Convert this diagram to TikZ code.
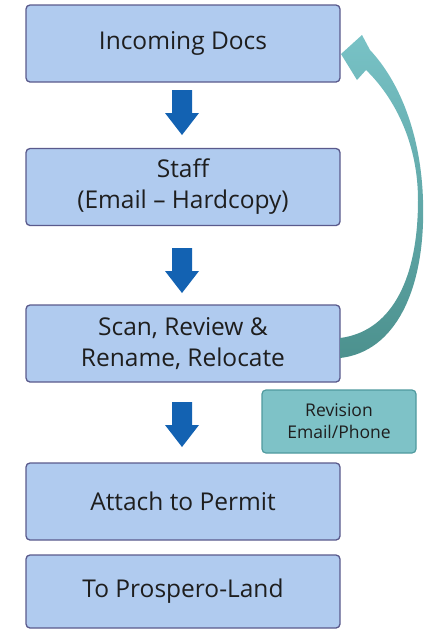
\documentclass[tikz,border=0pt]{standalone}
\usepackage{fontspec}
\setmainfont{Open Sans}
\definecolor{boxfill}{HTML}{B0CBEF}
\definecolor{boxline}{HTML}{5A5A8C}
\definecolor{revfill}{HTML}{7EC2C7}
\definecolor{revline}{HTML}{4F9A9E}
\definecolor{bluearrow}{HTML}{1362B2}
\definecolor{tealtop}{HTML}{78C2C6}
\definecolor{tealbot}{HTML}{4C918E}
\definecolor{txt}{HTML}{1E1E1E}
\tikzset{
  stepbox/.style={draw=boxline, line width=1.3pt, fill=boxfill, rounded corners=4pt,
    minimum width=314pt, minimum height=77pt, align=center, inner sep=0pt,
    text=txt, font=\fontsize{24.5}{31}\selectfont},
  revbox/.style={draw=revline, line width=1.2pt, fill=revfill, rounded corners=4pt,
    minimum width=154pt, minimum height=63pt, align=center, inner sep=0pt,
    text=txt, font=\fontsize{17.5}{22}\selectfont},
  downarrow/.style={fill=bluearrow, draw=none}
}
\begin{document}
\begin{tikzpicture}[x=1pt,y=-1pt]
\useasboundingbox (0,0) rectangle (428,630);
\node[stepbox] (b1) at (183,43.5) {Incoming Docs};
\node[stepbox] (b2) at (183,187) {Staff\\(Email – Hardcopy)};
\node[stepbox] (b3) at (183,343.5) {Scan, Review \&\\Rename, Relocate};
\node[stepbox] (b4) at (183,501.5) {Attach to Permit};
\node[stepbox, minimum height=73pt] (b5) at (183,591.5) {To Prospero-Land};
\node[revbox] (rev) at (339,421.5) {Revision\\Email/Phone};
% block arrows
\foreach \t in {90,248,402}{
  \fill[downarrow] (172,\t) -- (192,\t) -- (192,\t+23) -- (199,\t+23) -- (182,\t+45)
     -- (165,\t+23) -- (172,\t+23) -- cycle;
}
% curved return arrow
\shade[top color=tealtop, middle color=white!55!tealtop, bottom color=tealbot]
  (340,358) .. controls (395,352) and (426,290) .. (423,200)
  .. controls (421,135) and (400,82) .. (370,50)
  -- (362,35) -- (341,54) -- (357,80) -- (366,70)
  .. controls (392,95) and (418,140) .. (418,200)
  .. controls (418,285) and (388,332) .. (340,338) -- cycle;
\end{tikzpicture}
\end{document}
